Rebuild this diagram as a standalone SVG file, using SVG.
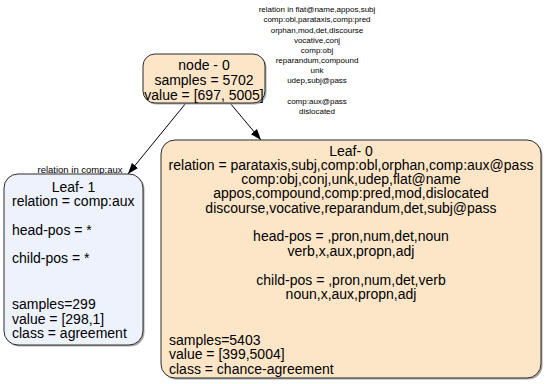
<svg xmlns="http://www.w3.org/2000/svg" width="546" height="384" viewBox="0 0 546 384">
  <style>
    text { font-family: "Liberation Sans", Arial, sans-serif; fill: #000; }
    .t { font-size: 14px; }
    .s { font-size: 8px; }
    .sl { font-size: 9.5px; }
    .mid { text-anchor: middle; }
    .box { stroke: #2b2b2b; stroke-width: 1; }
    .shadow { fill: #a8a8a8; }
    .peach { fill: #fde6c8; }
    .lav { fill: #eef2fd; }
    .edge { stroke: #000; stroke-width: 1; fill: none; }
  </style>
  <defs>
    <marker id="arrow" viewBox="0 0 11 10" refX="11" refY="5" markerWidth="11" markerHeight="10" markerUnits="userSpaceOnUse" orient="auto">
      <path d="M0,1 L11,5 L0,9 Z" fill="#000"/>
    </marker>
  </defs>

  <g id="edges">
    <line class="edge" x1="186" y1="103" x2="128" y2="174" marker-end="url(#arrow)"/>
    <line class="edge" x1="230" y1="103" x2="261" y2="140" marker-end="url(#arrow)"/>
    <g id="edge-label-left">
      <text class="sl mid" x="80" y="173">relation in comp:aux</text>
    </g>
    <g id="edge-label-right">
      <text class="s mid" x="317" y="12">relation in flat@name,appos,subj</text>
      <text class="s mid" x="317" y="22">comp:obl,parataxis,comp:pred</text>
      <text class="s mid" x="317" y="33">orphan,mod,det,discourse</text>
      <text class="s mid" x="317" y="43">vocative,conj</text>
      <text class="s mid" x="317" y="53">comp:obj</text>
      <text class="s mid" x="317" y="63">reparandum,compound</text>
      <text class="s mid" x="317" y="73">unk</text>
      <text class="s mid" x="317" y="83">udep,subj@pass</text>
      <text class="s mid" x="317" y="104">comp:aux@pass</text>
      <text class="s mid" x="317" y="114">dislocated</text>
    </g>
  </g>

  <g id="node-0">
    <rect class="shadow" x="144.5" y="55.5" width="122" height="49" rx="12"/>
    <rect class="box peach" x="143" y="54" width="122" height="49" rx="12"/>
    <text class="t mid" x="204" y="70">node - 0</text>
    <text class="t mid" x="204" y="85">samples = 5702</text>
    <text class="t mid" x="204" y="100">value = [697, 5005]</text>
  </g>

  <g id="leaf-1">
    <rect class="shadow" x="5.5" y="175.5" width="139" height="171" rx="14"/>
    <rect class="box lav" x="4" y="174" width="139" height="171" rx="14"/>
    <text class="t mid" x="73.5" y="192">Leaf- 1</text>
    <text class="t" x="12" y="206">relation = comp:aux</text>
    <text class="t" x="12" y="235">head-pos = *</text>
    <text class="t" x="12" y="263">child-pos = *</text>
    <text class="t" x="12" y="309">samples=299</text>
    <text class="t" x="12" y="324">value = [298,1]</text>
    <text class="t" x="12" y="338">class = agreement</text>
  </g>

  <g id="leaf-0">
    <rect class="shadow" x="162.5" y="141.5" width="380" height="238" rx="14"/>
    <rect class="box peach" x="161" y="140" width="380" height="238" rx="14"/>
    <text class="t mid" x="351" y="156">Leaf- 0</text>
    <text class="t mid" x="351" y="170">relation = parataxis,subj,comp:obl,orphan,comp:aux@pass</text>
    <text class="t mid" x="351" y="184">comp:obj,conj,unk,udep,flat@name</text>
    <text class="t mid" x="351" y="198">appos,compound,comp:pred,mod,dislocated</text>
    <text class="t mid" x="351" y="213">discourse,vocative,reparandum,det,subj@pass</text>
    <text class="t mid" x="351" y="241">head-pos = ,pron,num,det,noun</text>
    <text class="t mid" x="351" y="256">verb,x,aux,propn,adj</text>
    <text class="t mid" x="351" y="285">child-pos = ,pron,num,det,verb</text>
    <text class="t mid" x="351" y="299">noun,x,aux,propn,adj</text>
    <text class="t" x="169" y="345">samples=5403</text>
    <text class="t" x="169" y="359">value = [399,5004]</text>
    <text class="t" x="169" y="374">class = chance-agreement</text>
  </g>
</svg>
